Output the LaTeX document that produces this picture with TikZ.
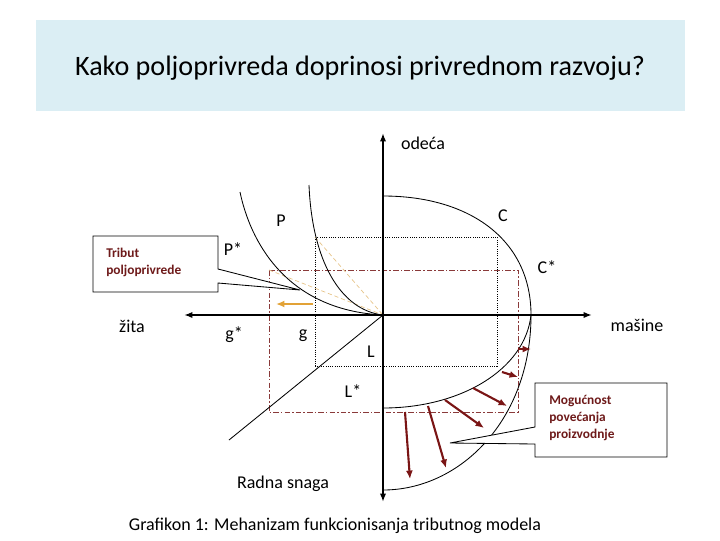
\documentclass[tikz,border=0pt]{standalone}
\usepackage{fontspec}
\setmainfont{Carlito}
\usetikzlibrary{arrows.meta}
\definecolor{titlebg}{HTML}{DBEEF4}
\definecolor{tribred}{HTML}{6E1A1A}
\definecolor{arrred}{HTML}{7A1515}
\definecolor{linered}{HTML}{8A3A3A}
\definecolor{shiftorange}{HTML}{E2A236}
\definecolor{paleorange}{HTML}{E6C48A}
\tikzstyle{axis} = [line width=1.6pt, {Latex[length=6pt,width=4.5pt]}-{Latex[length=6pt,width=4.5pt]}]
\tikzstyle{curve} = [line width=0.6pt]
\tikzstyle{dotline} = [line width=0.5pt, dash pattern=on 0.6pt off 1pt]
\tikzstyle{dashdotline} = [linered, line width=0.6pt, dash pattern=on 4pt off 1.5pt on 1pt off 1.5pt]
\tikzstyle{paledash} = [paleorange, line width=0.5pt, dash pattern=on 3pt off 2pt]
\tikzstyle{shiftarrow} = [shiftorange, line width=2pt, -{Latex[length=6pt,width=5pt]}]
\tikzstyle{liftarrow} = [arrred, line width=1.5pt, -{Latex[length=6pt,width=5pt]}]
\tikzstyle{callout} = [line width=0.6pt, fill=white]
\tikzstyle{calltext} = [font=\bfseries\fontsize{9.5}{12}\selectfont, text=tribred, align=left, anchor=west, inner sep=0pt]
\tikzstyle{lbl} = [font=\fontsize{12.8}{15}\selectfont, inner sep=0pt]

\begin{document}
\begin{tikzpicture}[x=0.025cm,y=-0.025cm]
\useasboundingbox (0,0) rectangle (720,540);
\fill[titlebg] (36,20) rectangle (685,111);
\node[font=\fontsize{20}{24}\selectfont] (title) at (360,68) {Kako poljoprivreda doprinosi privrednom razvoju?};

\coordinate (O) at (383,315);
\coordinate (top) at (383,133);
\coordinate (bot) at (383,502);
\coordinate (lft) at (184,315);
\coordinate (rgt) at (592,315);

% pomocne linije
\draw[dotline] (315,237) rectangle (497,366);
\draw[dashdotline] (269,270) rectangle (518,412);
\draw[paledash] (315,237) -- (O);
\draw[paledash] (269,270) -- (O);

% krive P, P*, C, C*
\draw[curve] (240,192) .. controls (250,240) and (285,310) .. (O);
\draw[curve] (309,185) .. controls (312,260) and (340,310) .. (O);
\draw[curve] (383,196) .. controls (470,196) and (531,240) .. (531,315);
\draw[curve] (531,315) .. controls (525,370) and (460,408) .. (383,408);
\draw[curve] (531,315) .. controls (531,420) and (460,490) .. (383,490);
\draw[curve] (229,440) -- (O);

% ose
\draw[axis] (bot) -- (top);
\draw[axis] (lft) -- (rgt);

\draw[shiftarrow] (313,304) -- (276,304);
\foreach \xa/\ya/\xb/\yb in {518/349/531/349, 502/372/518/377, 473/388/507/406, 445/400/484/428, 428/406/446/468, 405/412/410/479}
  \draw[liftarrow] (\xa,\ya) -- (\xb,\yb);

% oblacici
\coordinate (tribtip) at (300,290);
\draw[callout] (93,236) -- (218,236) -- (218,269) -- (tribtip) -- (218,283) -- (218,292) -- (93,292) -- cycle;
\node[calltext] (tribut) at (106,262) {Tribut\\poljoprivrede};
\coordinate (mogtip) at (450,443);
\draw[callout] (535,383) -- (667,383) -- (667,457) -- (535,457) -- (535,444) -- (mogtip) -- (535,427) -- cycle;
\node[calltext] (mogucnost) at (549,418) {Mogućnost\\povećanja\\proizvodnje};

% oznake
\node[lbl] (odeca) at (423,143) {odeća};
\node[lbl] (C) at (503,216) {C};
\node[lbl] (Cs) at (547,267) {C*};
\node[lbl] (P) at (281,221) {P};
\node[lbl] (Ps) at (233,249) {P*};
\node[lbl] (masine) at (637,325) {mašine};
\node[lbl] (gs) at (234,335) {g*};
\node[lbl] (g) at (303,336) {g};
\node[lbl] (L) at (371,352) {L};
\node[lbl] (Ls) at (353,391) {L*};
\node[lbl] (zita) at (132,326) {žita};
\node[lbl] (radna) at (283,484) {Radna snaga};
\node[lbl] (caption) at (335,526) {Grafikon 1: Mehanizam funkcionisanja tributnog modela};
\end{tikzpicture}
\end{document}
